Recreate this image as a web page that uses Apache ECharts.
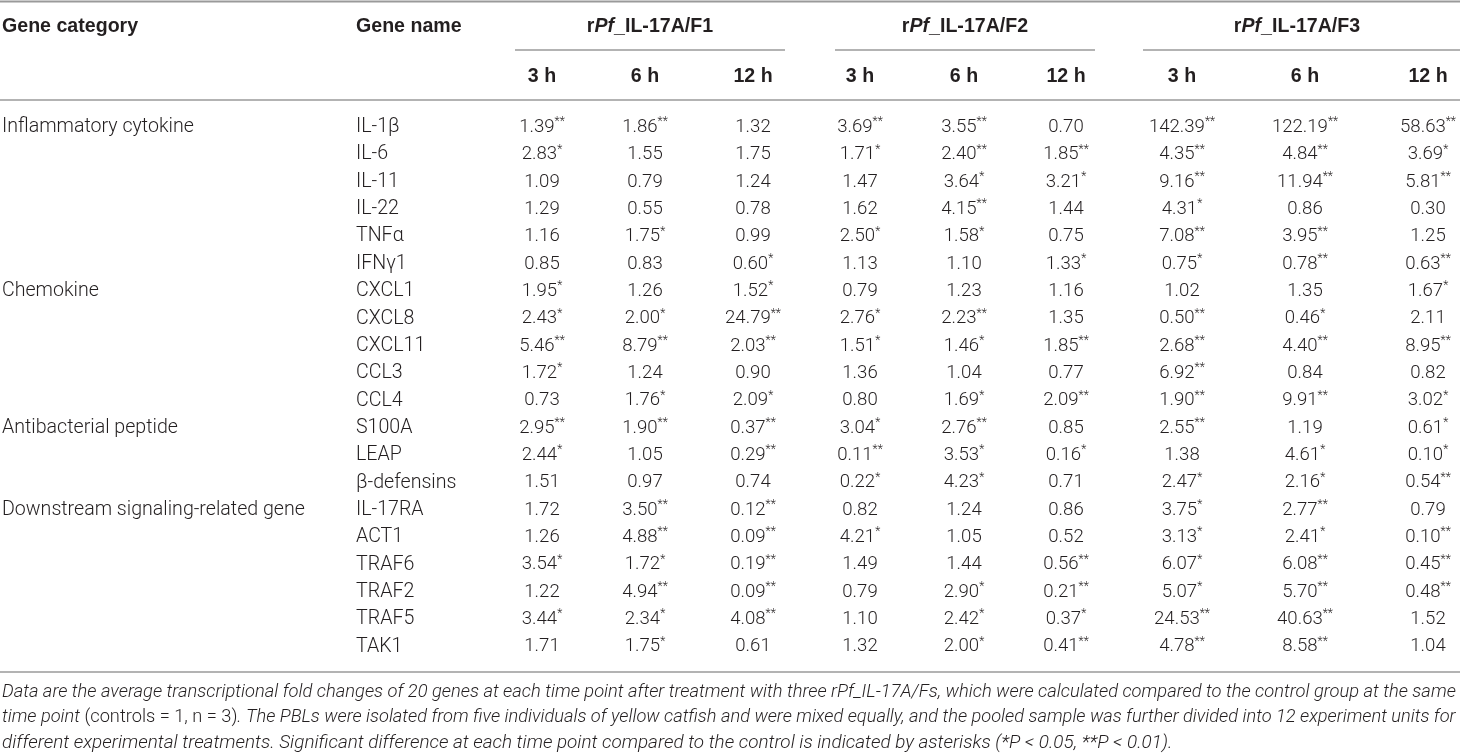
<!DOCTYPE html>
<html>
<head>
    <meta http-equiv="Content-Type" content="text/html; charset=utf-8" />
    <title>rPf_IL-17A/F gene table</title>
    <style>
        html, body { margin: 0; padding: 0; background: #fff; }
        #main { width: 1460px; height: 754px; }
    </style>
</head>
<body>
    <div id="main"></div>
    <script src="https://cdn.jsdelivr.net/npm/echarts@6/dist/echarts.min.js"></script>
    <script type="text/javascript">
        // table content
        var geneCategory = ['Inflammatory cytokine', '', '', '', '', '', 'Chemokine', '', '', '', '',
            'Antibacterial peptide', '', '', 'Downstream signaling-related gene', '', '', '', '', ''];
        var genes = ['IL-1β', 'IL-6', 'IL-11', 'IL-22', 'TNFα', 'IFNγ1', 'CXCL1', 'CXCL8', 'CXCL11', 'CCL3',
            'CCL4', 'S100A', 'LEAP', 'β-defensins', 'IL-17RA', 'ACT1', 'TRAF6', 'TRAF2', 'TRAF5', 'TAK1'];
        var treatments = ['F1', 'F2', 'F3'];
        var timePoints = ['3 h', '6 h', '12 h'];

        var f1_3h  = ['1.39**','2.83*','1.09','1.29','1.16','0.85','1.95*','2.43*','5.46**','1.72*','0.73','2.95**','2.44*','1.51','1.72','1.26','3.54*','1.22','3.44*','1.71'];
        var f1_6h  = ['1.86**','1.55','0.79','0.55','1.75*','0.83','1.26','2.00*','8.79**','1.24','1.76*','1.90**','1.05','0.97','3.50**','4.88**','1.72*','4.94**','2.34*','1.75*'];
        var f1_12h = ['1.32','1.75','1.24','0.78','0.99','0.60*','1.52*','24.79**','2.03**','0.90','2.09*','0.37**','0.29**','0.74','0.12**','0.09**','0.19**','0.09**','4.08**','0.61'];
        var f2_3h  = ['3.69**','1.71*','1.47','1.62','2.50*','1.13','0.79','2.76*','1.51*','1.36','0.80','3.04*','0.11**','0.22*','0.82','4.21*','1.49','0.79','1.10','1.32'];
        var f2_6h  = ['3.55**','2.40**','3.64*','4.15**','1.58*','1.10','1.23','2.23**','1.46*','1.04','1.69*','2.76**','3.53*','4.23*','1.24','1.05','1.44','2.90*','2.42*','2.00*'];
        var f2_12h = ['0.70','1.85**','3.21*','1.44','0.75','1.33*','1.16','1.35','1.85**','0.77','2.09**','0.85','0.16*','0.71','0.86','0.52','0.56**','0.21**','0.37*','0.41**'];
        var f3_3h  = ['142.39**','4.35**','9.16**','4.31*','7.08**','0.75*','1.02','0.50**','2.68**','6.92**','1.90**','2.55**','1.38','2.47*','3.75*','3.13*','6.07*','5.07*','24.53**','4.78**'];
        var f3_6h  = ['122.19**','4.84**','11.94**','0.86','3.95**','0.78**','1.35','0.46*','4.40**','0.84','9.91**','1.19','4.61*','2.16*','2.77**','2.41*','6.08**','5.70**','40.63**','8.58**'];
        var f3_12h = ['58.63**','3.69*','5.81**','0.30','1.25','0.63**','1.67*','2.11','8.95**','0.82','3.02*','0.61*','0.10*','0.54**','0.79','0.10**','0.45**','0.48**','1.52','1.04'];

        var footnote = [
            '{i|Data are the average transcriptional fold changes of 20 genes at each time point after treatment with three rPf_IL-17A/Fs, which were calculated compared to the control group at the same}',
            '{i|time point }{n|(controls = 1, n = 3)}{i|. The PBLs were isolated from five individuals of yellow catfish and were mixed equally, and the pooled sample was further divided into 12 experiment units for}',
            '{i|different experimental treatments. Significant difference at each time point compared to the control is indicated by asterisks (*P < 0.05, **P < 0.01).}'
        ];

        var W = 1460;
        var FONT = 'Roboto, "Liberation Sans", sans-serif';
        var BOLD = '"Liberation Sans", Arial, sans-serif';
        var TXT = '#231f20';
        var RULE = '#9a9a9a';

        // layout: x position of each column
        var dataCols = [f1_3h, f1_6h, f1_12h, f2_3h, f2_6h, f2_12h, f3_3h, f3_6h, f3_12h];
        var dataColX = [542, 645, 753, 860, 964, 1066, 1182, 1305, 1428];
        var groupX = [650, 965, 1297];
        var groupLine = [[515, 785], [835, 1095], [1143, 1460]];

        function cellText(s) {
            var m = s.match(/^([^*]*)(\**)$/);
            return '{v|' + m[1] + '}' + (m[2] ? '{s|' + m[2] + '}' : '');
        }
        var cellRich = {
            v: { fontFamily: FONT, fontWeight: 300, fontSize: 18.6, lineHeight: 22, color: TXT },
            s: { fontFamily: FONT, fontWeight: 300, fontSize: 12, lineHeight: 13, color: TXT, verticalAlign: 'top' }
        };

        function textSeries(xpos, labels, align, rich) {
            return {
                type: 'custom',
                coordinateSystem: 'cartesian2d',
                silent: true,
                data: genes.map(function (g, i) { return [xpos, i]; }),
                renderItem: function (params, api) {
                    var p = api.coord([api.value(0), api.value(1)]);
                    var s = labels[params.dataIndex];
                    return {
                        type: 'text',
                        x: p[0], y: p[1],
                        style: {
                            text: rich ? cellText(s) : s,
                            rich: rich ? cellRich : undefined,
                            font: '300 19.6px ' + FONT,
                            fill: TXT,
                            align: align,
                            verticalAlign: 'middle'
                        }
                    };
                }
            };
        }

        var series = [textSeries(2, geneCategory, 'left', false), textSeries(356, genes, 'left', false)];
        dataCols.forEach(function (col, c) {
            series.push(textSeries(dataColX[c], col, 'center', true));
        });

        var graphic = [];
        function hline(x1, x2, y, w) {
            graphic.push({ type: 'line', shape: { x1: x1, y1: y, x2: x2, y2: y }, style: { stroke: RULE, lineWidth: w || 1.5 }, silent: true });
        }
        function label(x, y, text, opts) {
            graphic.push({
                type: 'text', x: x, y: y, silent: true,
                style: Object.assign({
                    text: text, font: 'bold 19.6px ' + BOLD, fill: TXT,
                    align: 'center', verticalAlign: 'middle'
                }, opts || {})
            });
        }
        hline(0, W, 1.5, 2);
        hline(0, W, 100);
        hline(0, W, 672);
        groupLine.forEach(function (g) { hline(g[0], g[1], 50); });

        label(2, 27, 'Gene category', { align: 'left' });
        label(356, 27, 'Gene name', { align: 'left' });
        var headRich = {
            b: { fontFamily: BOLD, fontWeight: 'bold', fontSize: 19.6, color: TXT },
            bi: { fontFamily: BOLD, fontWeight: 'bold', fontStyle: 'italic', fontSize: 19.6, color: TXT }
        };
        treatments.forEach(function (t, k) {
            label(groupX[k], 27, '{b|r}{bi|Pf}{b|_IL-17A/' + t + '}', { rich: headRich });
            timePoints.forEach(function (h, j) {
                label(dataColX[k * 3 + j], 77, h);
            });
        });

        // footnote: justified lines are shrunk to fit the width, the last one keeps the base size
        var ctx = document.createElement('canvas').getContext('2d');
        function lineWidth(line, size) {
            var w = 0, re = /\{(\w+)\|([^}]*)\}/g, m;
            while ((m = re.exec(line))) {
                ctx.font = (m[1] === 'i' ? 'italic ' : '') + '300 ' + size + 'px ' + FONT;
                w += ctx.measureText(m[2]).width;
            }
            return w;
        }
        footnote.forEach(function (line, k) {
            var size = 18.9;
            if (k < footnote.length - 1) {
                size = size * 1454 / lineWidth(line, size);
            }
            label(2, 692 + k * 25.5, line, {
                align: 'left',
                rich: {
                    i: { fontFamily: FONT, fontStyle: 'italic', fontWeight: 300, fontSize: size, color: TXT },
                    n: { fontFamily: FONT, fontWeight: 300, fontSize: size, color: TXT }
                }
            });
        });

        var option = {
            animation: false,
            grid: { left: 0, right: 0, top: 113.5, bottom: 754 - 660.5 },
            xAxis: { type: 'value', min: 0, max: W, show: false },
            yAxis: { type: 'category', data: genes, inverse: true, show: false },
            graphic: graphic,
            series: series
        };

        var myChart = echarts.init(document.getElementById('main'));
        myChart.setOption(option);
    </script>
</body>
</html>
